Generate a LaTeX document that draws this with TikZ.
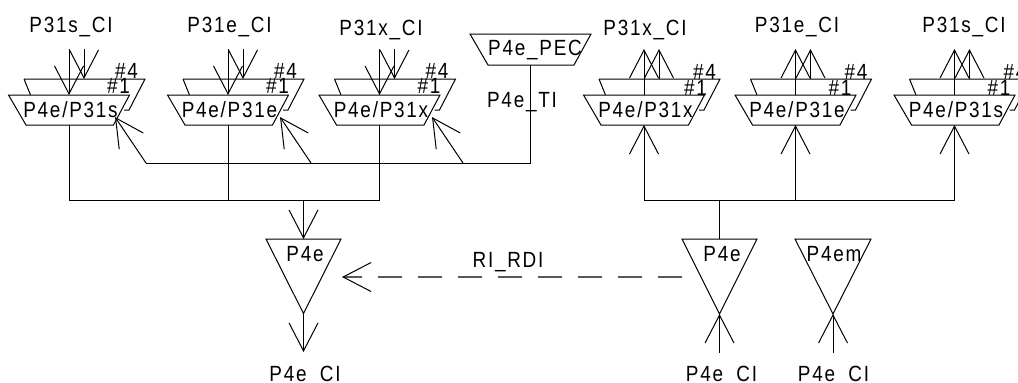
\documentclass[tikz,border=0pt]{standalone}
\usepackage{fontspec}
\setmainfont{Liberation Sans}[LetterSpace=8,FakeStretch=0.86]
\usetikzlibrary{arrows.meta}
\tikzset{
  wire/.style={line width=1pt,black,line join=miter},
  barb/.style={wire,-{Straight Barb[length=28pt,width=29pt,line width=1pt]}},
  dashwire/.style={wire,-{Straight Barb[length=28pt,width=29pt,line width=1pt,color=black]},draw=black!65,line width=1.2pt,dash pattern=on 24pt off 16pt},
  lbl/.style={inner sep=0pt,outer sep=0pt,anchor=base,xshift=1pt,font=\fontsize{22}{22}\selectfont},
  lblsm/.style={lbl}
}
% unit: name, left edge, label, #4 x, #1 x, #4 baseline, #1 baseline, side-tip x
\newcommand{\Unit}[8]{%
  \begin{scope}[shift={(#2,0)}]
    \draw[wire] (15.5,79) -- (136.5,79) -- (120.5,110) -- (115.5,110);
    \draw[wire] (15.5,79) -- (22,95);
    \draw[wire] (0,95) -- (121,95) -- (105,125) -- (17.5,125) -- cycle;
    \coordinate (#1-top)  at (60.5,95);
    \coordinate (#1-back) at (75.5,79);
    \coordinate (#1-bot)  at (60.5,125);
    \coordinate (#1-s1)   at (60.5,49);
    \coordinate (#1-s2)   at (75.5,49);
    \coordinate (#1-bus)  at (60.5,200);
    \coordinate (#1-side) at (#8,117);
    \coordinate (#1-feed) at ({#8+31},163);
    \node[lbl] (#1-lab) at (61,117) {#3};
    \node[lblsm] (#1-n4) at (#4,#6) {\#4};
    \node[lblsm] (#1-n1) at (#5,#7) {\#1};
  \end{scope}}
\begin{document}
\begin{tikzpicture}[x=1pt,y=-1pt]
\useasboundingbox (0,0) rectangle (1018,383);
\clip (0,0) rectangle (1018,383);
% left units
\Unit{a}{8.5}{P4e/P31s}{117}{109}{78}{93}{106.5}
\Unit{b}{167.5}{P4e/P31e}{117}{109}{78}{93}{112.5}
\Unit{c}{319}{P4e/P31x}{117}{109}{78}{93}{113}
% right units
\Unit{d}{583.5}{P4e/P31x}{120}{111}{79}{95}{0}
\Unit{e}{735}{P4e/P31e}{120}{104}{79}{95}{0}
\Unit{f}{894}{P4e/P31s}{120}{104}{79}{95}{0}
% input arrows of left units
\foreach \u in {a,b,c}{
  \draw[barb] (\u-s1) -- (\u-top);
  \draw[barb] (\u-s2) -- (\u-back);
  \draw[wire] (\u-bot) -- (\u-bus);
}
% output arrows of right units
\foreach \u in {d,e,f}{
  \draw[barb] (\u-top) -- (\u-s1);
  \draw[barb] (\u-back) -- (\u-s2);
  \draw[barb] (\u-bus) -- (\u-bot);
}
% PEC
\draw[wire] (470,34) -- (591,34) -- (574,65) -- (488,65) -- cycle;
\node[lbl] (pec) at (534,55) {P4e\_PEC};
\coordinate (pecb) at (530.5,65);
\coordinate (peccor) at (530.5,163);
\node[lbl] (ti) at (521,107) {P4e\_TI};
\draw[wire] (pecb) -- (peccor) -- (a-feed);
\draw[barb] (a-feed) -- (a-side);
\draw[barb] (b-feed) -- (b-side);
\draw[barb] (c-feed) -- (c-side);
% buses
\draw[wire] (a-bus) -- (c-bus);
\draw[wire] (d-bus) -- (f-bus);
% bottom left triangle
\draw[wire] (266,239) -- (341,239) -- (303.5,313.5) -- cycle;
\coordinate (t1top) at (303.5,239);
\coordinate (t1bot) at (303.5,313.5);
\coordinate (t1bus) at (303.5,200);
\coordinate (t1out) at (303.5,352);
\coordinate (t1in) at (342,277);
\node[lbl] (t1lab) at (304,261) {P4e};
\draw[barb] (t1bus) -- (t1top);
\draw[barb] (t1bot) -- (t1out);
\node[lbl] (o1) at (304,381) {P4e\hspace{0.6em}CI};
% bottom right triangles
\draw[wire] (682,239) -- (757,239) -- (719.5,314) -- cycle;
\draw[wire] (795,239) -- (871,239) -- (833,314) -- cycle;
\coordinate (t2top) at (719.5,239);
\coordinate (t2bus) at (719.5,200);
\coordinate (t2bot) at (719.5,314);
\coordinate (t2in) at (719.5,353);
\coordinate (t2dash) at (682,277);
\coordinate (t3bot) at (833,314);
\coordinate (t3in) at (833,353);
\node[lbl] (t2lab) at (721,261) {P4e};
\node[lbl] (t3lab) at (833,261) {P4em};
\draw[wire] (t2bus) -- (t2top);
\draw[barb] (t2in) -- (t2bot);
\draw[barb] (t3in) -- (t3bot);
\node[lbl] (o2) at (720.5,381) {P4e\hspace{0.6em}CI};
\node[lbl] (o3) at (832.5,381) {P4e\hspace{0.6em}CI};
% RDI
\draw[dashwire] (t2dash) -- (t1in);
\node[lbl] (rdi) at (507,267) {RI\_RDI};
% top labels
\node[lbl] (l1) at (70,32) {P31s\_CI};
\node[lbl] (l2) at (228.5,32) {P31e\_CI};
\node[lbl] (l3) at (380,35) {P31x\_CI};
\node[lbl] (l4) at (644,35) {P31x\_CI};
\node[lbl] (l5) at (796,32) {P31e\_CI};
\node[lbl] (l6) at (963,32) {P31s\_CI};
\end{tikzpicture}
\end{document}
